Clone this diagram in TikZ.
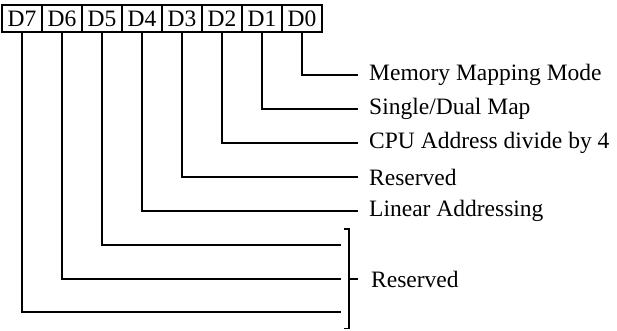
\documentclass[tikz,border=0pt]{standalone}
\usepackage{fontspec}
\setmainfont{Liberation Serif}
\usetikzlibrary{positioning}

\begin{document}
\begin{tikzpicture}[
  x=1pt, y=-1pt,
  font=\fontsize{23.5}{27}\selectfont,
  bit/.style={draw=black, line width=1.5pt, minimum width=40pt, minimum height=27pt, inner sep=0pt},
  lbl/.style={anchor=west, inner xsep=11pt, inner ysep=0pt},
  wire/.style={draw=black, line width=1.5pt}
]
\useasboundingbox (0,0) rectangle (617,330);
% register bits
\node[bit] (b7) at (22,18.5) {D7};
\node[bit] (b6) at (62,18.5) {D6};
\node[bit] (b5) at (102,18.5) {D5};
\node[bit] (b4) at (142,18.5) {D4};
\node[bit] (b3) at (182,18.5) {D3};
\node[bit] (b2) at (222,18.5) {D2};
\node[bit] (b1) at (262,18.5) {D1};
\node[bit] (b0) at (302,18.5) {D0};
% field names
\node[lbl] (l0) at (358,75) {Memory Mapping Mode};
\node[lbl] (l1) at (358,109) {Single/Dual Map};
\node[lbl] (l2) at (358,143) {CPU Address divide by 4};
\node[lbl] (l3) at (358,177) {Reserved};
\node[lbl] (l4) at (358,211) {Linear Addressing};
\draw[wire] (b0.south) |- (l0.west);
\draw[wire] (b1.south) |- (l1.west);
\draw[wire] (b2.south) |- (l2.west);
\draw[wire] (b3.south) |- (l3.west);
\draw[wire] (b4.south) |- (l4.west);
% upper bits share one label
\coordinate (e5) at (341,245);
\coordinate (e6) at (341,279);
\coordinate (e7) at (341,312);
\draw[wire] (b5.south) |- (e5);
\draw[wire] (b6.south) |- (e6);
\draw[wire] (b7.south) |- (e7);
\coordinate (bt) at (349,229);
\coordinate (bb) at (349,328.5);
\coordinate (bm) at (349,279);
\node[lbl, inner xsep=22pt] (l5) at (bm) {Reserved};
\draw[wire] ([xshift=-5pt]bt) -- (bt) -- (bb) -- ([xshift=-5pt]bb);
\draw[wire] (bm) -- ([xshift=9pt]bm);
\end{tikzpicture}
\end{document}
